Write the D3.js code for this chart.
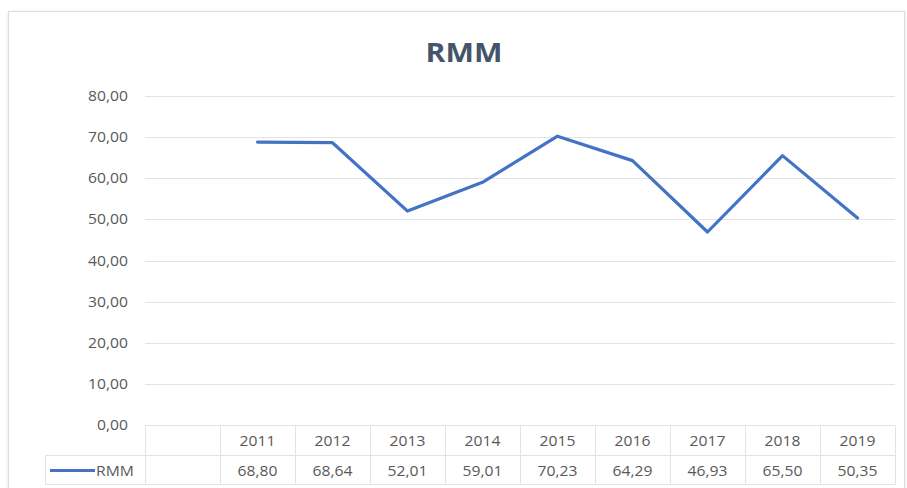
<!DOCTYPE html>
<html>
<head>
<meta charset="utf-8">
<script src="https://cdn.jsdelivr.net/npm/d3@7"></script>
<style>
  html, body { margin: 0; padding: 0; background: #fff; }
  svg { display: block; }
  text { font-family: "Open Sans", "Noto Sans", sans-serif; }
</style>
</head>
<body>
<svg id="chart" width="907" height="488"></svg>
<script>
// Series data
const years = ["2011", "2012", "2013", "2014", "2015", "2016", "2017", "2018", "2019"];
const rmm = [68.80, 68.64, 52.01, 59.01, 70.23, 64.29, 46.93, 65.50, 50.35];
const yTicks = [0, 10, 20, 30, 40, 50, 60, 70, 80];
const seriesName = "RMM";
const chartTitle = "RMM";

const W = 907, H = 488;
const svg = d3.select("#chart");

const ptBR = d3.formatLocale({ decimal: ",", thousands: ".", grouping: [3], currency: ["", ""] });
const fmt = ptBR.format(".2f");

// Layout
const gridLeft = 145, plotLeft = 220, plotRight = 895;
const yTop = 96, yBottom = 425;
const rowH = 29;
const legendLeft = 45;

const textColor = "#595959";
const gridColor = "#e3e3e3";
const lineColor = "#4472C4";
const sx = 1.12; // horizontal stretch for text

// Chart area frame with soft shadow
const defs = svg.append("defs");
const f = defs.append("filter").attr("id", "shadow").attr("x", "-5%").attr("y", "-5%").attr("width", "110%").attr("height", "110%");
f.append("feDropShadow").attr("dx", 0).attr("dy", 1).attr("stdDeviation", 1.5).attr("flood-color", "#000").attr("flood-opacity", 0.12);

svg.append("rect").attr("width", W).attr("height", H).attr("fill", "#fff");
svg.append("rect")
  .attr("x", 8.5).attr("y", 11.5).attr("width", 896).attr("height", 500)
  .attr("fill", "#fff").attr("stroke", "#dcdcdc").attr("stroke-width", 1)
  .attr("filter", "url(#shadow)");

function stretchedText(sel, x, y) {
  return sel.attr("transform", `translate(${x},${y}) scale(${sx},1)`);
}

// Title
stretchedText(svg.append("text"), 464, 62)
  .attr("text-anchor", "middle")
  .attr("font-size", 27).attr("font-weight", 700)
  .attr("fill", "#44546A")
  .text(chartTitle);

// Scales
const y = d3.scaleLinear().domain([0, 80]).range([yBottom, yTop]);
const x = d3.scaleBand().domain(years).range([plotLeft, plotRight]).paddingInner(0).paddingOuter(0);

// Gridlines
svg.append("g").selectAll("line").data(yTicks).join("line")
  .attr("x1", gridLeft).attr("x2", plotRight)
  .attr("y1", d => Math.round(y(d)) + 0.5).attr("y2", d => Math.round(y(d)) + 0.5)
  .attr("stroke", gridColor).attr("stroke-width", 1);

// Y tick labels
svg.append("g").selectAll("text").data(yTicks).join("text")
  .attr("transform", d => `translate(128,${y(d) + 5}) scale(${sx},1)`)
  .attr("text-anchor", "end")
  .attr("font-size", 14).attr("fill", textColor)
  .text(d => fmt(d));

// Line
const line = d3.line()
  .x((d, i) => x(years[i]) + x.bandwidth() / 2)
  .y(d => y(d));
svg.append("path").datum(rmm)
  .attr("d", line)
  .attr("fill", "none").attr("stroke", lineColor)
  .attr("stroke-width", 3.2).attr("stroke-linejoin", "round").attr("stroke-linecap", "round");

// Data table
const tableTop = Math.round(y(0)) + 0.5;
const row1 = tableTop + rowH + 1;
const row2 = row1 + rowH;
const tg = svg.append("g");
// horizontal rules
tg.append("line").attr("x1", legendLeft).attr("x2", plotRight).attr("y1", row1).attr("y2", row1)
  .attr("stroke", gridColor);
tg.append("line").attr("x1", legendLeft).attr("x2", plotRight).attr("y1", row2).attr("y2", row2)
  .attr("stroke", gridColor);
// vertical rules
const vx = [gridLeft].concat(years.map(d => x(d))).concat([plotRight]);
tg.selectAll("line.v").data(vx).join("line").attr("class", "v")
  .attr("x1", d => Math.round(d) + 0.5).attr("x2", d => Math.round(d) + 0.5)
  .attr("y1", tableTop).attr("y2", row2)
  .attr("stroke", gridColor);
tg.append("line").attr("x1", legendLeft + 0.5).attr("x2", legendLeft + 0.5).attr("y1", row1).attr("y2", row2)
  .attr("stroke", gridColor);

// year headers
tg.selectAll("text.yr").data(years).join("text").attr("class", "yr")
  .attr("transform", d => `translate(${x(d) + x.bandwidth() / 2},${tableTop + 20}) scale(${sx},1)`)
  .attr("text-anchor", "middle").attr("font-size", 14).attr("fill", textColor)
  .text(d => d);
// values
tg.selectAll("text.val").data(rmm).join("text").attr("class", "val")
  .attr("transform", (d, i) => `translate(${x(years[i]) + x.bandwidth() / 2},${row1 + 20}) scale(${sx},1)`)
  .attr("text-anchor", "middle").attr("font-size", 14).attr("fill", textColor)
  .text(d => fmt(d));

// legend key
const keyY = row1 + rowH / 2 + 0.5;
tg.append("line").attr("x1", 50).attr("x2", 95).attr("y1", keyY).attr("y2", keyY)
  .attr("stroke", lineColor).attr("stroke-width", 3.2);
stretchedText(tg.append("text"), 96, row1 + 20)
  .attr("font-size", 14).attr("fill", textColor)
  .text(seriesName);
</script>
</body>
</html>
